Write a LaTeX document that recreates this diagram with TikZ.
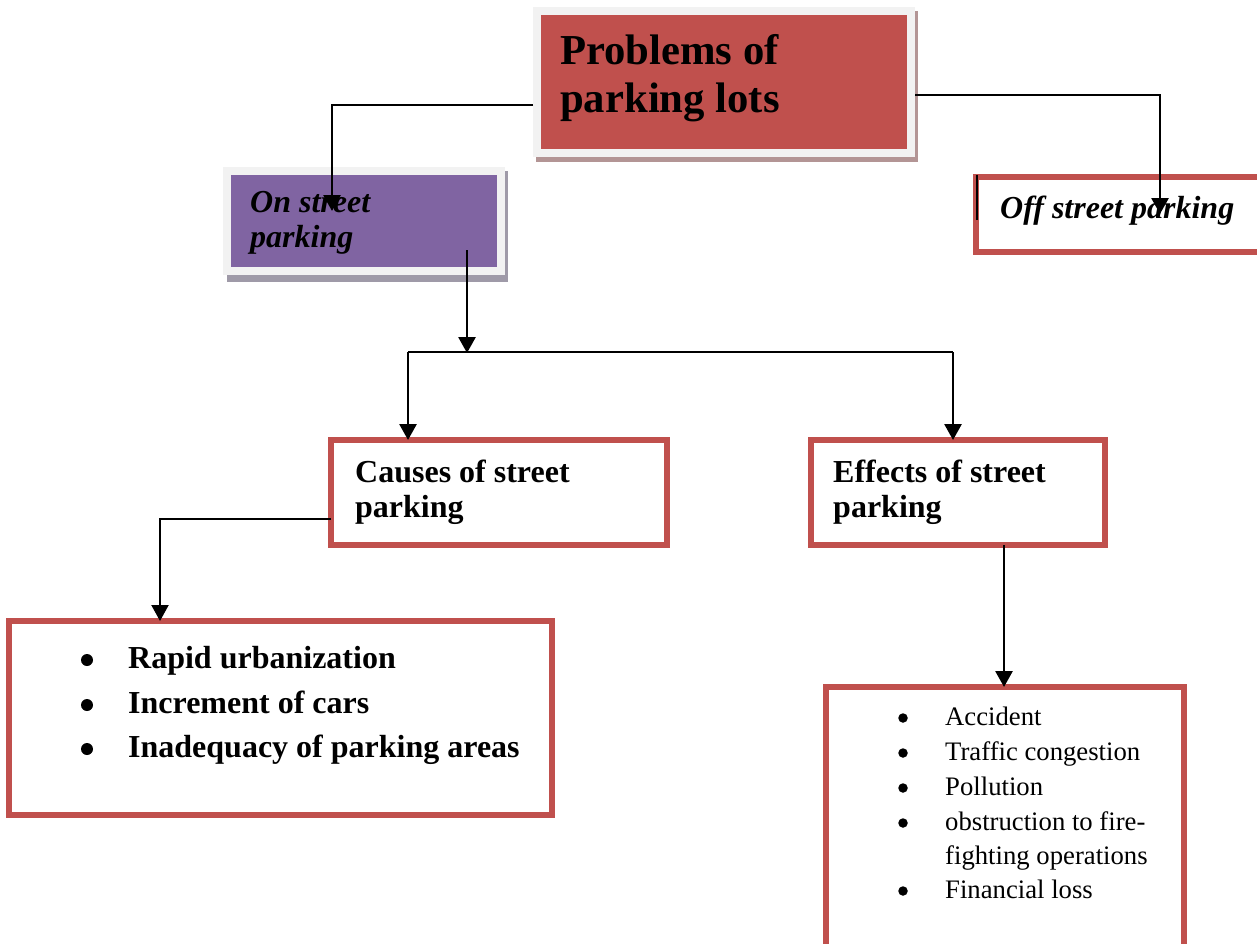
\documentclass[tikz,border=0pt]{standalone}
\usepackage{fontspec}
\setmainfont{Liberation Serif}
\usetikzlibrary{arrows.meta,calc}
\definecolor{boxred}{HTML}{C0504D}
\definecolor{boxpurple}{HTML}{8064A2}
\definecolor{framegray}{HTML}{F2F2F2}
\definecolor{shadowred}{HTML}{B39595}
\definecolor{shadowpurple}{HTML}{9F9AA8}
\newcommand\ftitle{\fontsize{42.7}{48}\selectfont\bfseries}
\newcommand\fbig{\fontsize{32}{36}\selectfont\bfseries}
\newcommand\fbigit{\fontsize{32}{36}\selectfont\bfseries\itshape}
\newcommand\fsmall{\fontsize{26.7}{32}\selectfont}
\begin{document}
\begin{tikzpicture}[x=1pt,y=-1pt,
  redbox/.style={draw=boxred, line width=6pt, fill=white, inner sep=0pt, outer sep=0pt},
  framebox/.style={draw=framegray, line width=8pt, inner sep=0pt},
  txt/.style={inner sep=0pt, anchor=base west},
  bulbig/.style={circle, fill=black, inner sep=0pt, minimum size=12pt},
  bulsmall/.style={circle, fill=black, inner sep=0pt, minimum size=9.5pt},
  conn/.style={line width=2.8pt, -{Triangle[length=16pt,width=17pt]}},
  connthin/.style={line width=2.2pt, -{Triangle[length=16pt,width=17pt]}},
  plain/.style={line width=2.6pt}]
\useasboundingbox (0,0) rectangle (1257,944);
\fill[white] (0,0) rectangle (1257,944);
\clip (0,0) rectangle (1257,944);

% top box
\fill[shadowred] (536,11) rectangle (918,162);
\node[framebox, fill=boxred, minimum width=374pt, minimum height=142pt] (top) at (724,82) {};
\node[txt] (t1) at (560,65) {\ftitle Problems of};
\node[txt] (t2) at (560,113) {\ftitle parking lots};

% on street
\fill[shadowpurple] (227,171) rectangle (508,282);
\node[framebox, fill=boxpurple, minimum width=274pt, minimum height=100pt] (on) at (364,221) {};
\node[txt] (on1) at (250,212) {\fbigit On street};
\node[txt] (on2) at (250,247) {\fbigit parking};

% off street
\node[redbox, minimum width=294pt, minimum height=75pt] (off) at (1123,214.5) {};
\node[txt] (off1) at (1000,218) {\fbigit Off street parking};

% causes / effects
\node[redbox, minimum width=336pt, minimum height=105pt] (causes) at (499,492.5) {};
\node[txt] (c1) at (355,482) {\fbig Causes of street};
\node[txt] (c2) at (355,517) {\fbig parking};
\node[redbox, minimum width=294pt, minimum height=105pt] (effects) at (958,492.5) {};
\node[txt] (e1) at (833,482) {\fbig Effects of street};
\node[txt] (e2) at (833,517) {\fbig parking};

% causes list
\node[redbox, minimum width=543pt, minimum height=194pt] (clist) at (280.5,718) {};
\node[bulbig] (cb1) at (87,660) {};
\node[bulbig] (cb2) at (87,705) {};
\node[bulbig] (cb3) at (87,749) {};
\node[txt] (cl1) at (128,668) {\fbig Rapid urbanization};
\node[txt] (cl2) at (128,713) {\fbig Increment of cars};
\node[txt] (cl3) at (128,757) {\fbig Inadequacy of parking areas};

% effects list
\node[redbox, minimum width=358pt, minimum height=267pt] (elist) at (1005,820.5) {};
\node[bulsmall] (eb1) at (903,718) {};
\node[bulsmall] (eb2) at (903,753) {};
\node[bulsmall] (eb3) at (903,788) {};
\node[bulsmall] (eb4) at (903,823) {};
\node[bulsmall] (eb5) at (903,891) {};
\node[txt] (el1) at (945,725) {\fsmall Accident};
\node[txt] (el2) at (945,760) {\fsmall Traffic congestion};
\node[txt] (el3) at (945,795) {\fsmall Pollution};
\node[txt] (el4) at (945,830) {\fsmall obstruction to fire-};
\node[txt] (el5) at (945,864) {\fsmall fighting operations};
\node[txt] (el6) at (945,898) {\fsmall Financial loss};

% connectors
\coordinate (aTip) at (332,211);
\coordinate (bTip) at (1160,214);
\coordinate (cStart) at (467,250);
\coordinate (split) at (467,353);
\coordinate (hl) at (408,352);
\coordinate (hr) at (953,352);
\coordinate (dx) at (160,0);
\coordinate (ex) at (1004,0);
\coordinate (s1) at (977,175);
\coordinate (s2) at (977,220);

\draw[conn] ($(top.west)+(0,23)$) -| (aTip);
\draw[conn] ($(top.east)+(0,13)$) -| (bTip);
\draw[plain] (s1) -- (s2);
\draw[conn] (cStart) -- (split);
\draw[plain] (hl) -- (hr);
\draw[conn] (hl) -- (hl |- causes.north);
\draw[conn] (hr) -- (hr |- effects.north);
\draw[connthin] ($(causes.west)+(0,26.5)$) -| (dx |- clist.north);
\draw[conn] (ex |- effects.south) -- (ex |- elist.north);
\end{tikzpicture}
\end{document}
